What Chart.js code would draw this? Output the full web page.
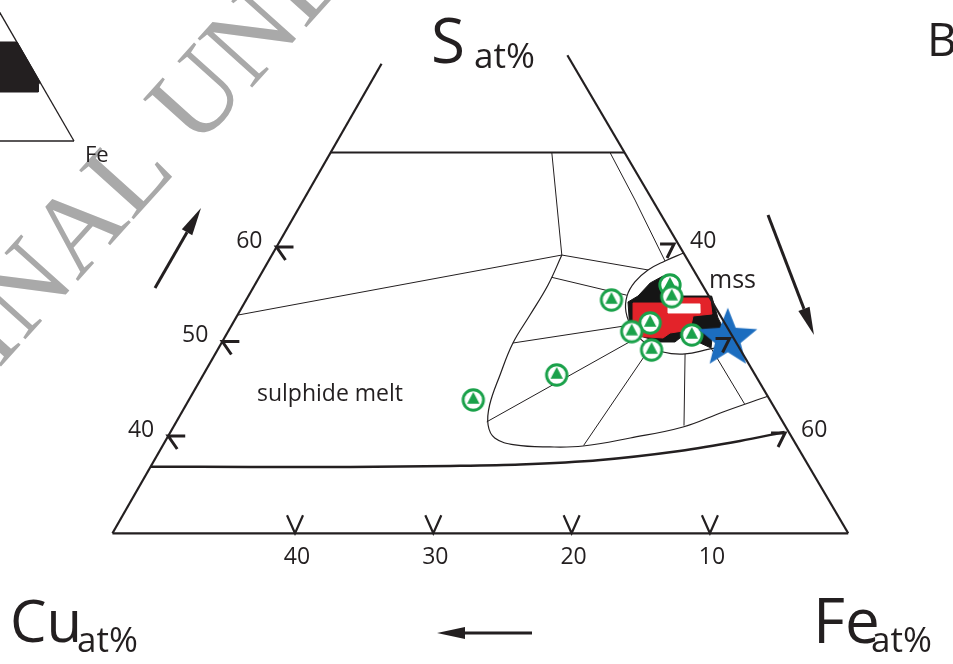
<!DOCTYPE html>
<html>
<head>
<meta charset="utf-8">
<script src="https://cdn.jsdelivr.net/npm/chart.js@4.4.1/dist/chart.umd.min.js"></script>
<style>
  html, body { margin: 0; padding: 0; background: #fff; }
  #wrap { width: 953px; height: 664px; }
</style>
</head>
<body>
<div id="wrap"><canvas id="myChart" width="953" height="664"></canvas></div>
<script>
const frameLeft = [[53.2, 29.7], [13.8, 79.4]]
const frameRight = [[0, 29.7], [0, 80.3]]
const frameBase = [[53.2, 29.7], [0, 29.7]]
const topLine = [[21.25, 70], [0, 70]]
const lowerCurve = [[47.6, 36.75], [40.4, 36.72], [33.2, 36.72], [25.9, 36.83], [20.8, 36.98], [14.8, 37.46], [8.7, 38.41], [3.9, 39.47], [0.3, 40.42]]

const cotecticLeft = [[34.85, 52.8], [8.89, 59.15]]
const cotecticTop = [[8.89, 59.15], [5.26, 70]]
const cotecticRight = [[8.89, 59.15], [3.29, 57.57]]
const pyLine = [[1.05, 70], [1.26, 64.97], [1.68, 58.52]]

const mssField = [[0, 59.37], [1.68, 58.52], [3.29, 57.57], [4.75, 56.3], [5.92, 54.81], [6.67, 53.12], [6.92, 51.22], [6.61, 49.84], [5.69, 48.89], [4.18, 48.68], [2.15, 49.21], [0, 49.63]]
const meltField = [[8.89, 59.15], [11.16, 55.98], [13.74, 52.8], [16.16, 49.84], [18.45, 46.46], [20.48, 43.28], [21.44, 41.16], [21.51, 39.79], [20.34, 39.05], [17.89, 38.84], [15.46, 38.94], [11.71, 39.79], [7.43, 40.95], [3.9, 42.54], [0, 44.2]]
const tieLines = [
    [[10.56, 56.79], [5.9, 54.9]],
    [[16.16, 49.84], [6.85, 51.75]],
    [[21.4, 41.5], [6.8, 50.5]],
    [[15.4, 39.0], [6.3, 49.5]],
    [[7.3, 41.1], [4.18, 48.68]],
    [[2.0, 43.4], [2.05, 49.2]]
]

// analysed fields
const blackField = [[2.46, 56.93], [1.87, 56.08], [1.94, 54.81], [-0.2, 54.81], [0.27, 52.49], [0.34, 51.22], [1.5, 50.48], [2.05, 49.31], [2.73, 49.95], [2.8, 51.22], [4.4, 49.95], [5.48, 49.95], [6.67, 50.58], [7.22, 51.01], [6.1, 54.18], [5.12, 54.81], [3.69, 56.19]]
const redField = [[5.78, 54.07], [3.61, 54.07], [3.4, 54.6], [0, 54.6], [0.54, 52.91], [1.99, 52.7], [2.8, 51.22], [4.37, 50.9], [5.1, 50.37], [7.18, 50.58]]
const whiteBox = [[3.29, 53.97], [0.98, 53.97], [1.35, 53.02], [3.67, 53.02]]

const sampleCu = [21.45, 14.35, 7.21, 2.34, 2.71, 5.39, 7.09, 6.43, 2.89]
const sampleS = [43.81, 46.46, 54.39, 55.98, 54.74, 51.96, 51.04, 49.1, 50.69]
const starCu = [0.4]
const starS = [50.4]

const sTicks = [40, 50, 60]
const feTicks = [40, 50, 60]
const feTickLabels = ['40', '', '60']
const cuTicks = [40, 30, 20, 10]

// inset (small Cu-Fe-S triangle, [Fe, S])
const insetEdge = [[0, 100], [100, 0]]
const insetBase = [[0, 0], [100, 0]]
const insetField = [[0, 71.45], [28.7, 71.45], [57.46, 42.58], [57.5, 40.4], [60.0, 35.36], [0, 35.36]]

const SKEW = 0.4013
const toPt = p => ({ x: -p[0] - SKEW * p[1], y: p[1] })
const toInset = p => ({ x: p[0] + p[1] / 2, y: p[1] })
const INK = '#231f20'
const FONT = '"Open Sans"'

function line(pts, width, tension, order) {
    return { data: pts.map(toPt), showLine: true, borderColor: INK, borderWidth: width,
        pointRadius: 0, tension: tension, fill: false, order: order }
}
function shape(pts, color, order) {
    return { data: pts.concat([pts[0]]).map(toPt), showLine: true, borderColor: color, borderWidth: 1,
        backgroundColor: color, fill: 'shape', pointRadius: 0, tension: 0, order: order }
}

function greenMarker() {
    const c = document.createElement('canvas')
    c.width = 26; c.height = 26
    const g = c.getContext('2d')
    g.beginPath(); g.arc(13, 13, 10.2, 0, Math.PI * 2)
    g.fillStyle = '#fff'; g.fill()
    g.lineWidth = 2.9; g.strokeStyle = '#1aa14a'; g.stroke()
    g.beginPath(); g.moveTo(13, 5); g.lineTo(19.2, 16.8); g.lineTo(6.8, 16.8); g.closePath()
    g.fillStyle = '#1aa14a'; g.fill()
    return c
}
function blueStar() {
    const c = document.createElement('canvas')
    c.width = 66; c.height = 66
    const g = c.getContext('2d')
    g.beginPath()
    for (let i = 0; i < 10; i++) {
        const r = i % 2 ? 13.5 : 31
        const a = -Math.PI / 2 + i * Math.PI / 5
        g.lineTo(33 + r * Math.cos(a), 34 + r * Math.sin(a))
    }
    g.closePath()
    g.fillStyle = '#1c6dbf'; g.fill()
    return c
}

function arrow(ctx, x1, y1, x2, y2) {
    const a = Math.atan2(y2 - y1, x2 - x1)
    const hl = 28, hw = 6
    const bx = x2 - hl * Math.cos(a), by = y2 - hl * Math.sin(a)
    ctx.lineWidth = 3
    ctx.beginPath(); ctx.moveTo(x1, y1); ctx.lineTo(bx, by); ctx.stroke()
    ctx.beginPath(); ctx.moveTo(x2, y2)
    ctx.lineTo(bx + hw * Math.sin(a), by - hw * Math.cos(a))
    ctx.lineTo(bx - hw * Math.sin(a), by + hw * Math.cos(a))
    ctx.closePath(); ctx.fill()
}

const decor = {
    id: 'decor',
    beforeDatasetsDraw(chart) {
        const ctx = chart.ctx
        ctx.save()
        ctx.translate(196, 150)
        ctx.rotate(-48 * Math.PI / 180)
        ctx.font = '112px "Liberation Serif"'
        ctx.fillStyle = '#a9a9a9'
        ctx.textAlign = 'right'
        ctx.fillText('ORIGINAL ', 0, 0)
        ctx.textAlign = 'left'
        ctx.fillText('UNEDITED MANUSCRIPT', 0, 0)
        ctx.restore()
    },
    afterDatasetsDraw(chart) {
        const ctx = chart.ctx
        const sx = chart.scales.x, sy = chart.scales.y
        const px = (cu, s) => ({ x: sx.getPixelForValue(-cu - SKEW * s), y: sy.getPixelForValue(s) })
        const leftCu = s => {
            const a = frameLeft[0], b = frameLeft[1]
            return a[0] + (b[0] - a[0]) * (s - a[1]) / (b[1] - a[1])
        }
        ctx.save()
        ctx.strokeStyle = INK
        ctx.fillStyle = INK
        ctx.lineJoin = 'miter'
        ctx.font = '23px ' + FONT

        // S ticks on the left edge
        sTicks.forEach(s => {
            const v = px(leftCu(s), s)
            ctx.lineWidth = 3
            ctx.beginPath(); ctx.moveTo(v.x + 17, v.y); ctx.lineTo(v.x, v.y); ctx.lineTo(v.x + 9, v.y + 13); ctx.stroke()
            ctx.textAlign = 'right'; ctx.textBaseline = 'alphabetic'
            ctx.fillText(String(s), v.x - 14, v.y + 1)
        })
        // Fe ticks on the right edge
        feTicks.forEach((fe, i) => {
            const e = px(0, 100 - fe)
            const v = { x: e.x - 6, y: e.y - 3 }
            ctx.lineWidth = 3
            ctx.beginPath(); ctx.moveTo(v.x - 14, v.y); ctx.lineTo(v.x, v.y); ctx.lineTo(v.x - 7, v.y + 14); ctx.stroke()
            ctx.textAlign = 'left'; ctx.textBaseline = 'middle'
            ctx.fillText(feTickLabels[i], v.x + 16, v.y - 3)
        })
        // Cu ticks on the base
        cuTicks.forEach(cu => {
            const v = px(cu, frameBase[0][1])
            ctx.lineWidth = 2.2
            ctx.beginPath(); ctx.moveTo(v.x - 8, v.y - 18); ctx.lineTo(v.x, v.y); ctx.lineTo(v.x + 8, v.y - 18); ctx.stroke()
            ctx.textAlign = 'center'; ctx.textBaseline = 'middle'
            ctx.fillText(String(cu), v.x + 2, v.y + 24)
        })

        arrow(ctx, 155, 288, 201, 208)
        arrow(ctx, 768, 215, 814, 335)
        arrow(ctx, 532, 633, 437, 633)

        ctx.textAlign = 'left'; ctx.textBaseline = 'alphabetic'
        ctx.font = '23px ' + FONT
        ctx.fillText('sulphide melt', 257, 401)
        ctx.font = '25px ' + FONT
        ctx.fillText('mss', 709, 288)
        ctx.font = '22px ' + FONT
        ctx.fillText('Fe', 85, 162)

        ctx.font = '62px ' + FONT
        ctx.fillText('S', 431, 63)
        ctx.fillText('Fe', 813, 643)
        ctx.font = '58px ' + FONT
        ctx.fillText('Cu', 10, 642)
        ctx.font = '35px ' + FONT
        ctx.fillText('at%', 474, 68)
        ctx.fillText('at%', 77, 652)
        ctx.fillText('at%', 871, 652)
        ctx.font = '46px ' + FONT
        ctx.fillText('B', 927, 56)
        ctx.restore()
    }
}

const datasets = [
    line(frameLeft, 2.2, 0, 0),
    line(frameRight, 2.2, 0, 0),
    line(frameBase, 2.2, 0, 0),
    line(topLine, 2, 0, 0),
    line(lowerCurve, 2.5, 0.3, 0),
    { data: starCu.map((c, i) => toPt([c, starS[i]])), pointStyle: blueStar(), pointRadius: 31, order: 1 },
    { data: sampleCu.map((c, i) => toPt([c, sampleS[i]])), pointStyle: greenMarker(), pointRadius: 13, order: 2 },
    shape(whiteBox, '#ffffff', 3),
    shape(redField, '#e3232a', 4),
    shape(blackField, '#151515', 5),
    line(cotecticLeft, 1, 0, 6),
    line(cotecticTop, 1, 0, 6),
    line(cotecticRight, 1, 0, 6),
    line(pyLine, 1, 0, 6),
    line(mssField, 1.2, 0.4, 6),
    line(meltField, 1.2, 0.4, 6)
]
tieLines.forEach(t => datasets.push(line(t, 1, 0, 6)))

datasets.push({ data: insetEdge.map(toInset), xAxisID: 'xi', yAxisID: 'yi', showLine: true,
    borderColor: INK, borderWidth: 1.3, pointRadius: 0, order: 6 })
datasets.push({ data: insetBase.map(toInset), xAxisID: 'xi', yAxisID: 'yi', showLine: true,
    borderColor: INK, borderWidth: 1.3, pointRadius: 0, order: 6 })
datasets.push({ data: insetField.concat([insetField[0]]).map(toInset), xAxisID: 'xi', yAxisID: 'yi', showLine: true,
    borderColor: '#231f20', backgroundColor: '#231f20', borderWidth: 1, fill: 'shape', pointRadius: 0, order: 7 })

const ctx = document.getElementById('myChart')
const myChart = new Chart(ctx, {
    type: 'scatter',
    data: { datasets: datasets },
    options: {
        responsive: false,
        devicePixelRatio: 1,
        animation: false,
        events: [],
        layout: { padding: 0, autoPadding: false },
        plugins: { legend: { display: false }, tooltip: { enabled: false } },
        scales: {
            x: { type: 'linear', min: -73.25, max: -4.342, display: false, bounds: 'data' },
            y: { type: 'linear', min: 15.87, max: 86.14, display: false, bounds: 'data' },
            xi: { type: 'linear', axis: 'x', min: 53.75, max: 649.4, display: false, bounds: 'data' },
            yi: { type: 'linear', axis: 'y', min: -377.45, max: 101.76, display: false, bounds: 'data' }
        }
    },
    plugins: [decor]
})
</script>
</body>
</html>
